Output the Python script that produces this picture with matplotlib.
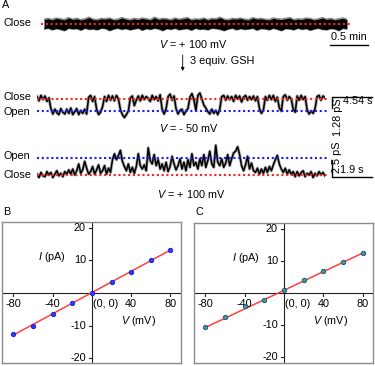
import matplotlib
matplotlib.use("Agg")
import matplotlib.pyplot as plt
import numpy as np

plt.rcParams['font.family'] = ['Liberation Sans', 'DejaVu Sans']
plt.rcParams['mathtext.fontset'] = 'custom'
plt.rcParams['mathtext.rm'] = 'Liberation Sans'
plt.rcParams['mathtext.it'] = 'Liberation Sans:italic'

# ---------------- data ----------------
# Trace 1 (V = +100 mV, before GSH): compressed closed-state record, upper / lower envelope (close = 0)
trace1_upper = [1.1, 1.3, 1.0, 1.4, 1.2, 1.0, 1.5, 1.1, 1.3, 1.0, 1.2, 1.6, 1.1, 1.0, 1.3, 1.2, 1.4, 1.0, 1.1, 1.5,
                1.2, 1.0, 1.3, 1.1, 1.4, 1.2, 1.0, 1.6, 1.1, 1.3, 1.2, 1.0, 1.4, 1.1, 1.3, 1.5, 1.0, 1.2, 1.1, 1.4,
                1.0, 1.3, 1.2, 1.6, 1.1, 1.0, 1.3, 1.2, 1.4, 1.1, 1.0, 1.5, 1.2, 1.3, 1.1, 1.0, 1.4, 1.2, 1.1, 1.3,
                1.5, 1.0, 1.2, 1.1, 1.4, 1.3, 1.0, 1.2, 1.5, 1.1, 1.3, 1.0, 1.2, 1.4, 1.1]
trace1_lower = [-1.2, -1.0, -1.4, -1.1, -1.3, -1.6, -1.0, -1.2, -1.1, -1.5, -1.0, -1.3, -1.2, -1.4, -1.0, -1.1, -1.6, -1.2, -1.0, -1.3,
                -1.1, -1.4, -1.2, -1.0, -1.5, -1.1, -1.3, -1.0, -1.2, -1.6, -1.1, -1.3, -1.0, -1.4, -1.2, -1.1, -1.5, -1.0, -1.3, -1.2,
                -1.4, -1.0, -1.1, -1.3, -1.6, -1.2, -1.0, -1.4, -1.1, -1.3, -1.2, -1.0, -1.5, -1.1, -1.2, -1.4, -1.0, -1.3, -1.6, -1.1,
                -1.2, -1.4, -1.0, -1.3, -1.1, -1.5, -1.2, -1.0, -1.3, -1.4, -1.1, -1.2, -1.6, -1.0, -1.2]

# Trace 2 (V = -50 mV, after GSH): close = 0, open = -1
trace2 = [0.2, -0.15, 0.3, -0.05, 0.25, -0.2, 0.1,
          -0.8, -1.25, -0.85, -1.15, -1.3, -0.8, -1.1, -1.25, -0.85, -1.2, -0.75, -1.3, -1.05, -0.8, -1.3, -0.95, -1.2, -0.85, -1.25,
          0.15, 0.3, -0.2, 0.2,
          -0.85, -1.3, -1.1, -0.65,
          0.2, -0.2, 0.3, -0.1, 0.25, -0.15, 0.3, 0.0,
          -0.9, -1.3, -1.55, -1.3, -1.0,
          0.1, 0.25, -0.55, -0.1,
          0.25, -0.15, 0.3, -0.05, 0.2, 0.05, -0.2, 0.3, -0.05, 0.2, -0.15, 0.35,
          -0.85, -1.25, -0.8,
          0.2, 0.4, -0.1, 0.25,
          -0.8, -1.25, -0.95, -0.85, -1.3, -1.0, -0.8,
          0.15, 0.45, -0.05,
          -0.95,
          0.3, 0.5, 0.0,
          -0.5, -0.75,
          -1.05, -1.25, -0.85, -1.2, -0.95, -1.3, -0.85,
          0.2, 0.3, -0.1, 0.25, -0.05, 0.2, -0.2, 0.3, 0.0, 0.25, -0.25, 0.15, 0.3, -0.1, 0.2, -0.05, 0.25, -0.15, 0.2,
          -0.8, -1.2, -0.9,
          0.2, -0.1, 0.3, -0.05, 0.3, -0.2, 0.15,
          -0.75, -1.0,
          0.2, 0.35, -0.1, 0.2, 0.0,
          -0.85, -1.1,
          0.25, -0.1, 0.3, -0.05, 0.2,
          -0.9, -1.25, -1.0, -1.2, -0.8,
          0.2, 0.3, -0.1, 0.25, 0.1]

# Trace 3 (V = +100 mV, after GSH): close = 0, open = 1
trace3 = [0.05, -0.15, 0.15, -0.05, -0.1, 0.2, 0.0, 0.15, -0.15, 0.05, 0.25, -0.05, 0.1, -0.1, 0.2, 0.05,
          0.3, 0.05, 0.35, 0.0, 0.25,
          0.65,
          0.1, 0.3,
          0.8, 0.4, 0.05,
          0.2, 0.5, 0.05, 0.3, 0.6, 0.1, 0.25, 0.55, 0.05, 0.4, 0.15,
          0.9, 1.25, 0.9, 1.15, 1.45, 0.8,
          0.5, 0.25, 0.65, 0.15, 0.45, 0.1, 0.5,
          1.25, 0.55,
          0.35, 0.6, 0.25,
          1.6, 0.85,
          0.65, 1.2, 0.55, 0.9, 0.35,
          0.65, 0.25, 0.75, 0.2,
          0.5, 1.1, 0.65, 0.3, 0.55,
          0.95, 0.35, 0.75, 0.25, 0.9, 0.45, 1.25, 0.55,
          0.75, 0.35, 0.95, 0.55, 1.2, 0.45, 0.85, 1.4, 0.65, 0.45,
          1.75, 0.75, 0.55, 0.95, 0.45,
          0.7, 1.2, 0.55, 0.95, 1.3,
          1.4, 1.66, 1.2, 0.55,
          0.25, 0.6, 1.1, 0.35, 0.7, 0.25,
          0.15, 0.4, 0.05, 0.35, 0.1, 0.45, 0.15, 0.5, 0.25,
          0.6, 0.9, 1.15, 0.65, 0.35,
          0.15, 0.4, 0.05, 0.3,
          0.05, 0.2, -0.1, 0.2, -0.05, 0.15, 0.25, -0.1, 0.1, 0.0, 0.2, -0.15, 0.1, -0.05, 0.2, 0.0, 0.15, -0.05]

# I-V curves
voltage = [-80, -60, -40, -20, 0, 20, 40, 60, 80]
current_B = [-12.7, -10.1, -6.5, -3.2, 0.0, 3.3, 6.4, 10.0, 13.2]
current_C = [-10.6, -7.5, -4.2, -2.2, 1.0, 4.0, 6.9, 9.7, 12.4]
fit_v = [-80, 80]
fit_B = [-12.9, 13.2]
fit_C = [-10.8, 12.5]
yticks = [-20, -10, 10, 20]
xticks = [-80, -40, 40, 80]

# ---------------- figure ----------------
W, H = 375, 366
fig = plt.figure(figsize=(W / 100, H / 100), dpi=100)
FS = 7.8


def add_ax(x0, y0, x1, y1):
    return fig.add_axes([x0 / W, 1 - y1 / H, (x1 - x0) / W, (y1 - y0) / H])


RED = '#ff2020'
BLUE = '#1a1aff'
DOT = (0, (1.0, 1.3))


def level_lines(ax, levels, extend):
    for lv, c in levels:
        ax.axhline(lv, xmin=-extend[0], xmax=1 + extend[1], color=c, lw=1.5, ls=DOT,
                   clip_on=False, zorder=3)


def trace_axes(box, data, ylim, levels, extend, glw):
    ax = add_ax(*box)
    ax.axis('off')
    x = np.arange(len(data))
    ax.plot(x, data, color='#a8a8a8', lw=glw, zorder=1)
    ax.plot(x, data, color='black', lw=1.1, zorder=2)
    ax.set_xlim(0, len(data) - 1)
    ax.set_ylim(*ylim)
    level_lines(ax, levels, extend)
    return ax


# trace 1 as envelope band
ax1 = add_ax(44, 14, 347, 34)
ax1.axis('off')
x1 = np.arange(len(trace1_upper))
ax1.plot(x1, trace1_upper, color='#8a8a8a', lw=1.6, zorder=1)
ax1.plot(x1, trace1_lower, color='#8a8a8a', lw=1.6, zorder=1)
ax1.fill_between(x1, trace1_lower, trace1_upper, color='black', lw=0, zorder=2)
ax1.set_xlim(0, len(trace1_upper) - 1)
ax1.set_ylim(-2.5, 2.5)
level_lines(ax1, [(0, RED)], (0.01, 0.01))

trace_axes((37, 86, 325, 124), trace2, (-25 / 12, 13 / 12), [(0, RED), (-1, BLUE)], (0.0, 0.008), 2.3)
trace_axes((37, 142, 325, 185), trace3, (-10 / 17, 33 / 17), [(0, RED), (1, BLUE)], (0.0, 0.008), 2.2)


def iv_axes(box, xlim, ylim, cur, fit, mcolor, medge, pxv, pxi, lab):
    ax = add_ax(*box)
    ax.set_xlim(*xlim)
    ax.set_ylim(*ylim)
    for s in ax.spines.values():
        s.set_color('#8c8c8c')
        s.set_linewidth(1.0)
    ax.set_xticks([])
    ax.set_yticks([])
    ax.axhline(0, color='#222222', lw=0.8, zorder=1)
    ax.axvline(0, color='#222222', lw=0.8, zorder=1)
    tlx = 3 / pxv
    tly = 3 / pxi
    for t in yticks:
        ax.plot([-tlx, 0], [t, t], color='#222222', lw=0.8)
        ax.text(-tlx - 3 / pxv, t, f"{t}", ha='right', va='center', fontsize=FS)
    for t in xticks:
        ax.plot([t, t], [0, -tly], color='#222222', lw=0.8)
        ax.text(t, -11 / pxi, f"{t}", ha='center', va='center', fontsize=FS)
    ax.text(0.8, -11 / pxi, "(0, 0)", ha='left', va='center', fontsize=FS)
    ax.text(lab[0][0], lab[0][1], r"$\mathit{I}$ (pA)", ha='left', va='center', fontsize=FS)
    ax.text(lab[1][0], lab[1][1], r"$\mathit{V}$ (mV)", ha='left', va='center', fontsize=FS)
    ax.plot(fit_v, fit, color='#ff4040', lw=1.1, zorder=2)
    ax.plot(voltage, cur, 'o', ms=3.2, mfc=mcolor, mec=medge, mew=0.6, zorder=3, clip_on=False)
    return ax


iv_axes((2.3, 222, 181, 363), (-91.4, 90.7), (-21.5, 21.8), current_B, fit_B,
        '#2a3cff', '#1a1acc', 0.981, 3.25, ((-55, 11.0), (29.3, -8.6)))
iv_axes((194, 223, 373, 363), (-91.5, 90.5), (-21.9, 21.9), current_C, fit_C,
        '#3f98a6', '#1f4f5a', 0.983, 3.2, ((-53, 10.8), (29.2, -8.75)))

# overlay for labels and scale bars (pixel coordinates)
ov = add_ax(0, 0, W, H)
ov.set_xlim(0, W)
ov.set_ylim(H, 0)
ov.axis('off')

ov.text(2, 5, "A", fontsize=FS, ha='left', va='center')
ov.text(3, 212, "B", fontsize=FS, ha='left', va='center')
ov.text(196, 212, "C", fontsize=FS, ha='left', va='center')

ov.text(4, 23.5, "Close", fontsize=FS, ha='left', va='center')
ov.text(3, 97, "Close", fontsize=FS, ha='left', va='center')
ov.text(3, 112, "Open", fontsize=FS, ha='left', va='center')
ov.text(3, 156, "Open", fontsize=FS, ha='left', va='center')
ov.text(3, 175.5, "Close", fontsize=FS, ha='left', va='center')

ov.text(193.5, 43.5, r"$\mathit{V}$ = + 100 mV", fontsize=FS, ha='center', va='center')
ov.text(189, 128, r"$\mathit{V}$ = - 50 mV", fontsize=FS, ha='center', va='center')
ov.text(191, 194, r"$\mathit{V}$ = + 100 mV", fontsize=FS, ha='center', va='center')

ov.annotate("", xy=(182.7, 71), xytext=(182.7, 55),
            arrowprops=dict(arrowstyle='-|>', color='black', lw=0.6, mutation_scale=5,
                            shrinkA=0, shrinkB=0))
ov.text(190, 61.5, "3 equiv. GSH", fontsize=FS, ha='left', va='center')

# scale bars
ov.plot([330, 368], [44.5, 44.5], color='black', lw=1.0)
ov.text(349, 37.5, "0.5 min", fontsize=FS, ha='center', va='center')

ov.plot([372, 332, 332], [96.5, 96.5, 108], color='black', lw=1.0)
ov.text(343, 101, "4.54 s", fontsize=FS, ha='left', va='center')
ov.text(338, 117, "1.28 pS", fontsize=FS, ha='center', va='center', rotation=90)

ov.plot([332, 332, 372], [160, 177, 177], color='black', lw=1.0)
ov.text(340, 170, "1.9 s", fontsize=FS, ha='left', va='center')
ov.text(337, 157.5, "2.5 pS", fontsize=FS, ha='center', va='center', rotation=90)

fig.savefig("out.png", dpi=100)
